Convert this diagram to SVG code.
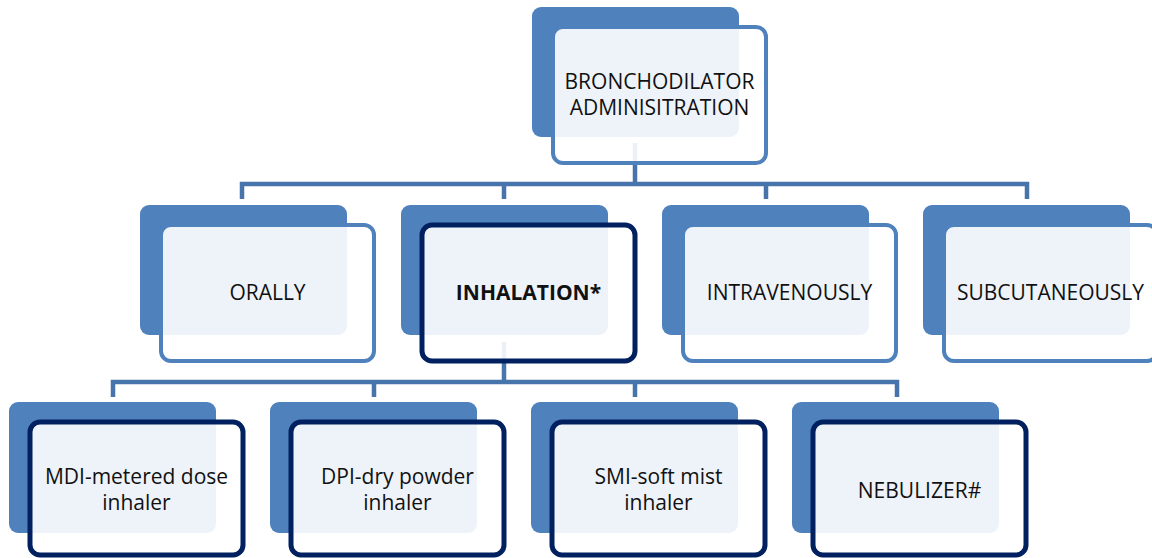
<svg xmlns="http://www.w3.org/2000/svg" width="1152" height="558" viewBox="0 0 1152 558">
<style>
.back{fill:#4f81bd}
.front{fill:#ffffff;fill-opacity:0.9;stroke:#4f81bd;stroke-width:4}
.dark{fill:#ffffff;fill-opacity:0.9;stroke:#002060;stroke-width:5}
.conn{fill:none;stroke:#4674ab;stroke-width:4.5;stroke-linejoin:miter}
text{font-family:"Open Sans","Liberation Sans",sans-serif;font-size:21px;fill:#111;text-anchor:middle}
.b{font-weight:bold}
</style>
<rect width="1152" height="558" fill="#ffffff"/>
<g id="connectors">
<path class="conn" d="M635 143V184M242 199V184H1027V199M504 184V199M766 184V199"/>
<path class="conn" d="M504 342V382M113 397V382H897V397M374 382V397M635 382V397"/>
</g>
<g id="n-root">
<rect class="back" x="532" y="7" width="207" height="130" rx="9"/>
<rect class="front" x="553" y="27" width="213" height="136" rx="10"/>
<text x="659.5" y="89">BRONCHODILATOR</text>
<text x="659.5" y="115">ADMINISITRATION</text>
</g>
<g id="n-orally">
<rect class="back" x="140" y="205" width="207" height="130" rx="9"/>
<rect class="front" x="161" y="225" width="213" height="136" rx="10"/>
<text x="267.5" y="300">ORALLY</text>
</g>
<g id="n-inhalation">
<rect class="back" x="401" y="205" width="207" height="130" rx="9"/>
<rect class="dark" x="422" y="225" width="213" height="136" rx="10"/>
<text class="b" x="528.5" y="300">INHALATION*</text>
</g>
<g id="n-iv">
<rect class="back" x="662" y="205" width="207" height="130" rx="9"/>
<rect class="front" x="683" y="225" width="213" height="136" rx="10"/>
<text x="789.5" y="300">INTRAVENOUSLY</text>
</g>
<g id="n-sc">
<rect class="back" x="923" y="205" width="207" height="130" rx="9"/>
<rect class="front" x="944" y="225" width="213" height="136" rx="10"/>
<text x="1050.5" y="300">SUBCUTANEOUSLY</text>
</g>
<g id="n-mdi">
<rect class="back" x="9" y="402" width="207" height="131" rx="9"/>
<rect class="dark" x="30" y="422" width="213" height="133" rx="10"/>
<text x="136.5" y="484">MDI-metered dose</text>
<text x="136.5" y="510">inhaler</text>
</g>
<g id="n-dpi">
<rect class="back" x="270" y="402" width="207" height="131" rx="9"/>
<rect class="dark" x="291" y="422" width="213" height="133" rx="10"/>
<text x="397.5" y="484">DPI-dry powder</text>
<text x="397.5" y="510">inhaler</text>
</g>
<g id="n-smi">
<rect class="back" x="531" y="402" width="207" height="131" rx="9"/>
<rect class="dark" x="552" y="422" width="213" height="133" rx="10"/>
<text x="658.5" y="484">SMI-soft mist</text>
<text x="658.5" y="510">inhaler</text>
</g>
<g id="n-neb">
<rect class="back" x="792" y="402" width="207" height="131" rx="9"/>
<rect class="dark" x="813" y="422" width="213" height="133" rx="10"/>
<text x="919.5" y="498">NEBULIZER#</text>
</g>
</svg>
